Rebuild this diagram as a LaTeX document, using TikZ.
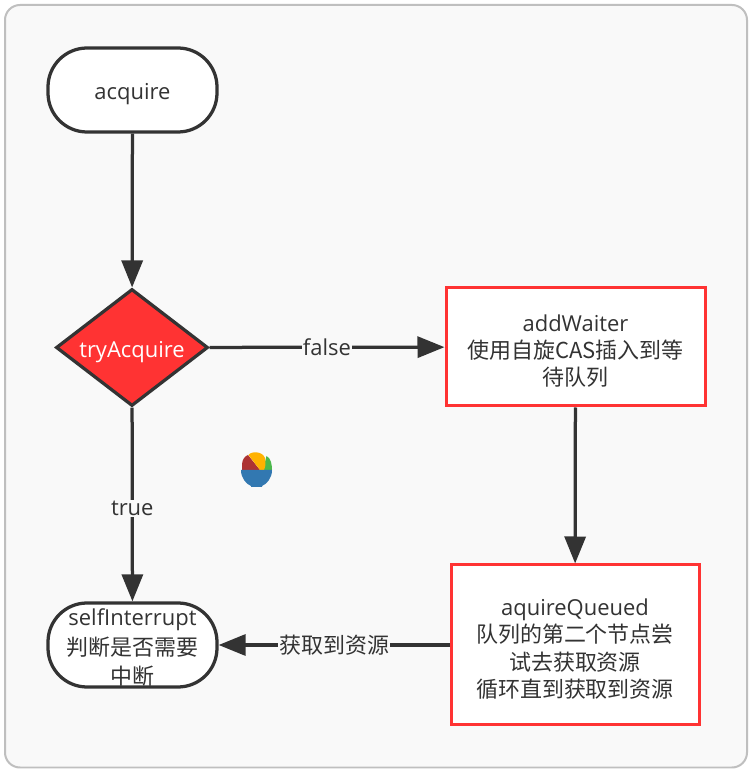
\documentclass[tikz,border=0pt]{standalone}
\usepackage{fontspec}
\setmainfont{Open Sans}
\newfontfamily\cjk{Noto Sans CJK SC}
\usetikzlibrary{shapes.geometric, arrows.meta}
\definecolor{ink}{HTML}{333333}
\definecolor{panel}{HTML}{F9F9F9}
\definecolor{alert}{HTML}{FF3333}
\newcommand{\leadin}[1]{\rule{0pt}{#1}}
\tikzset{
	every node/.style = {font=\fontsize{12.5}{15.6}\selectfont, text=ink, align=center},
	terminal/.style = {draw=ink, line width=0.065cm, fill=white, rounded corners=0.78cm, minimum width=3.38cm, minimum height=1.68cm, inner sep=0},
	decision/.style = {draw=ink, line width=0.065cm, fill=alert, diamond, shape aspect=1.3, minimum width=3.04cm, minimum height=2.34cm, inner sep=0, text=white},
	process/.style = {draw=alert, line width=0.06cm, fill=white, inner sep=0},
	flow/.style = {draw=ink, line width=0.065cm, -{Triangle[length=0.54cm, width=0.42cm]}},
	flowlabel/.style = {fill=panel, inner xsep=0.02cm, inner ysep=0.02cm},
}

\begin{document}
\begin{tikzpicture}
	\useasboundingbox (0, 0) rectangle (14.98, 15.4);
	\fill[white] (0, 0) rectangle (14.98, 15.4);
	\draw[fill=panel, draw=black!25, line width=0.04cm, rounded corners=0.3cm] (0.1, 0.05) rectangle (14.94, 15.3);

	\node[terminal, text height=0.5cm] (acquire) at (2.65, 13.6) {acquire};
	\node[decision, text height=0.5cm] (tryAcquire) at (2.64, 8.45) {tryAcquire};
	\node[process, minimum width=5.18cm, minimum height=2.36cm] (addWaiter) at (11.51, 8.46) {\leadin{0.5cm}addWaiter\\{\cjk 使用自旋CAS插入到等}\\{\cjk 待队列}};
	\node[process, minimum width=4.96cm, minimum height=3.2cm] (aquireQueued) at (11.5, 2.5) {\leadin{0.5cm}aquireQueued\\{\cjk 队列的第二个节点尝}\\{\cjk 试去获取资源}\\{\cjk 循环直到获取到资源}};
	\node[terminal] (selfInterrupt) at (2.65, 2.5) {\leadin{0.44cm}selfInterrupt\\[0.05cm]{\cjk 判断是否需要}\\[0.02cm]{\cjk 中断}};

	\draw[flow] (acquire) -- (tryAcquire);
	\draw[flow] (tryAcquire) -- (addWaiter) node[flowlabel, pos = 0.5] {false};
	\draw[flow] (tryAcquire) -- (selfInterrupt) node[flowlabel, pos = 0.52] {true};
	\draw[flow] (addWaiter) -- (aquireQueued);
	\draw[flow] (aquireQueued) -- (selfInterrupt) node[flowlabel, pos = 0.5] {\cjk 获取到资源};

	% bowl
	\fill[red!60!black!80] (4.84, 6.0) -- (4.84, 6.12) .. controls (4.85, 6.22) and (4.9, 6.28) .. (4.96, 6.3) -- (5.2, 6.0) -- cycle;
	\fill[green!60!black!70] (5.26, 6.0) -- (5.33, 6.28) .. controls (5.42, 6.24) and (5.44, 6.1) .. (5.44, 6.0) -- cycle;
	\fill[orange!60!yellow] (4.97, 6.3) .. controls (5.02, 6.38) and (5.25, 6.38) .. (5.3, 6.24) .. controls (5.32, 6.16) and (5.31, 6.06) .. (5.28, 6.0) -- (5.2, 6.0) -- cycle;
	\fill[cyan!65!blue!80!black] (4.82, 6.0) -- (5.44, 6.0) .. controls (5.44, 5.84) and (5.34, 5.72) .. (5.24, 5.68) -- (5.24, 5.66) -- (5.02, 5.66) -- (5.02, 5.68) .. controls (4.92, 5.72) and (4.82, 5.84) .. (4.82, 6.0) -- cycle;
\end{tikzpicture}
\end{document}
